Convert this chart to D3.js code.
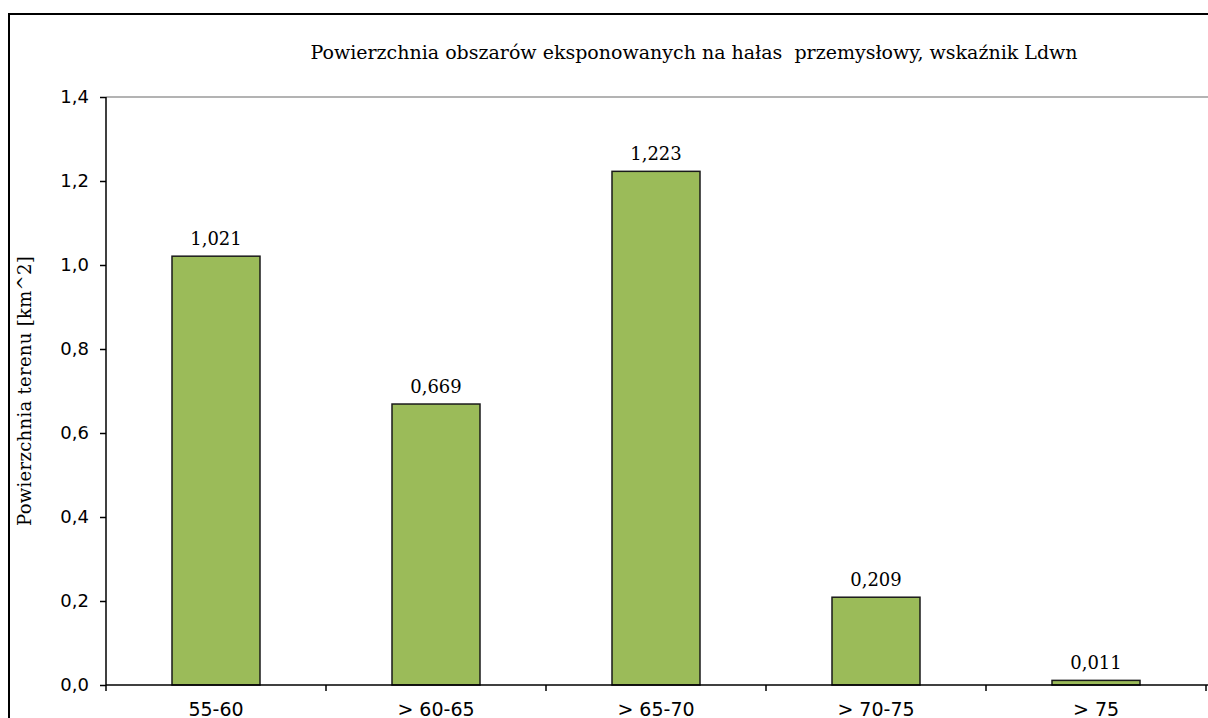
<!DOCTYPE html>
<html>
<head>
<meta charset="utf-8">
<script src="https://cdn.jsdelivr.net/npm/d3@7"></script>
<style>
  body { margin: 0; background: #fff; }
  svg { display: block; }
</style>
</head>
<body>
<div id="chart"></div>
<script>
  // dane
  var categories = ['55-60', '> 60-65', '> 65-70', '> 70-75', '> 75'];
  var values = [1.021, 0.669, 1.223, 0.209, 0.011];
  var yTicks = [0, 0.2, 0.4, 0.6, 0.8, 1.0, 1.2, 1.4];

  var chartTitle = 'Powierzchnia obszarów eksponowanych na hałas\u00a0 przemysłowy, wskaźnik Ldwn';
  var yTitle = 'Powierzchnia terenu [km^2]';

  var W = 1208, H = 718;
  var margin = { left: 106, top: 97, right: 2, bottom: 33 };

  var fmt = function(v, d){ return v.toFixed(d).replace('.', ','); };

  var svg = d3.select('#chart')
              .append('svg')
              .attr('width', W)
              .attr('height', H);

  // ramka wykresu
  svg.append('rect')
     .attr('x', 9).attr('y', 14)
     .attr('width', W + 20).attr('height', H + 20)
     .style('fill', 'none')
     .style('stroke', '#000')
     .style('stroke-width', 2);

  var x = d3.scaleBand()
            .domain(categories)
            .range([margin.left, W - margin.right])
            .paddingInner(0.6)
            .paddingOuter(0.3);

  var y = d3.scaleLinear()
            .domain([0, 1.4])
            .range([H - margin.bottom, margin.top]);

  // gorna krawedz obszaru kreslenia
  svg.append('line')
     .attr('x1', margin.left).attr('x2', W)
     .attr('y1', y(1.4)).attr('y2', y(1.4))
     .style('stroke', '#9a9a9a')
     .style('stroke-width', 1.5);

  svg.append('text')
     .attr('x', 694).attr('y', 59)
     .attr('text-anchor', 'middle')
     .style('font-family', 'DejaVu Serif')
     .style('font-size', '19px')
     .text(chartTitle);

  svg.append('text')
     .attr('transform', 'translate(31,' + y(0.7) + ') rotate(-90)')
     .attr('text-anchor', 'middle')
     .style('font-family', 'DejaVu Serif')
     .style('font-size', '18px')
     .style('letter-spacing', '0.3px')
     .text(yTitle);

  svg.selectAll('.bar')
     .data(values)
     .enter().append('rect')
     .attr('class', 'bar')
     .attr('x', function(d, i){ return x(categories[i]); })
     .attr('y', function(d){ return y(d); })
     .attr('width', x.bandwidth())
     .attr('height', function(d){ return y(0) - y(d); })
     .style('fill', '#9bbb59')
     .style('stroke', '#1a1a1a')
     .style('stroke-width', 1.5);

  svg.selectAll('.lbl')
     .data(values)
     .enter().append('text')
     .attr('class', 'lbl')
     .attr('x', function(d, i){ return x(categories[i]) + x.bandwidth() / 2; })
     .attr('y', function(d){ return y(d) - 11; })
     .attr('text-anchor', 'middle')
     .style('font-family', 'DejaVu Serif')
     .style('font-size', '18px')
     .text(function(d){ return fmt(d, 3); });

  var yAxis = svg.append('g')
                 .attr('transform', 'translate(' + margin.left + ',0)')
                 .call(d3.axisLeft(y).tickValues(yTicks).tickSize(6).tickPadding(11)
                        .tickFormat(function(d){ return fmt(d, 1); }));

  var step = x.step();
  var catTicks = d3.range(categories.length + 1).map(function(i){ return margin.left + i * step; });

  var xAxis = svg.append('g')
                 .attr('transform', 'translate(0,' + y(0) + ')');
  xAxis.append('line')
       .attr('x1', margin.left).attr('x2', W)
       .style('stroke', '#000').style('stroke-width', 1.5);
  xAxis.selectAll('.ct')
       .data(catTicks)
       .enter().append('line')
       .attr('x1', function(d){ return d; }).attr('x2', function(d){ return d; })
       .attr('y1', 0).attr('y2', 6)
       .style('stroke', '#000').style('stroke-width', 1.5);
  xAxis.selectAll('.cl')
       .data(categories)
       .enter().append('text')
       .attr('x', function(d){ return x(d) + x.bandwidth() / 2; })
       .attr('y', 31)
       .attr('text-anchor', 'middle')
       .style('font-family', 'DejaVu Sans')
       .style('font-size', '19px')
       .text(function(d){ return d; });

  yAxis.select('.domain').style('stroke-width', 1.5).attr('d', 'M0,' + y(1.4) + 'V' + y(0));
  yAxis.selectAll('.tick line').style('stroke-width', 1.5);
  yAxis.selectAll('.tick text')
       .style('font-family', 'DejaVu Sans')
       .style('font-size', '18px')
       .style('fill', '#000');
</script>
</body>
</html>
